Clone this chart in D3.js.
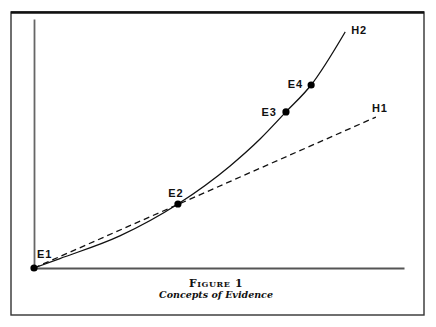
<!DOCTYPE html>
<html>
<head>
<meta charset="utf-8">
<script src="https://cdn.jsdelivr.net/npm/d3@7"></script>
<style>
  html, body { margin: 0; padding: 0; background: #fff; }
  svg { display: block; }
</style>
</head>
<body>
<svg id="chart" width="436" height="327"></svg>
<script>
// Hypothesis H2: a curve that bends upward through the evidence points
const h2X = [0, 7.0, 23.2, 38.9, 53.0, 61.1, 68.1, 74.9, 84.1];
const h2Y = [0, 3.8, 12.9, 25.7, 41.0, 51.8, 62.7, 73.5, 94.8];

// Hypothesis H1: a straight line from the origin
const h1X = [0, 92.4];
const h1Y = [0, 60.6];

// Evidence points
const evidenceNames = ["E1", "E2", "E3", "E4"];
const evidenceX = [0, 38.9, 68.1, 74.9];
const evidenceY = [0, 25.7, 62.7, 73.5];

const svg = d3.select("#chart");

const x = d3.scaleLinear().domain([0, 100]).range([34, 404]);
const y = d3.scaleLinear().domain([0, 100]).range([268, 19]);

// Frame
svg.append("rect")
  .attr("x", 11).attr("y", 12).attr("width", 413).attr("height", 303)
  .attr("fill", "#fff").attr("stroke", "#333").attr("stroke-width", 1.4);
svg.append("line")
  .attr("x1", 11).attr("x2", 424).attr("y1", 12.5).attr("y2", 12.5)
  .attr("stroke", "#111").attr("stroke-width", 2.6);

// Axes (plain lines, no ticks)
const xAxis = d3.axisBottom(x).tickValues([]).tickSizeOuter(0);
const yAxis = d3.axisLeft(y).tickValues([]).tickSizeOuter(0);
svg.append("g").attr("transform", `translate(0,${y(0)})`).call(xAxis)
  .select(".domain").attr("stroke", "#555").attr("stroke-width", 2);
svg.append("g").attr("transform", `translate(${x(0)},0)`).call(yAxis)
  .select(".domain").attr("stroke", "#666").attr("stroke-width", 1.8);

const line = d3.line()
  .x(d => x(d[0]))
  .y(d => y(d[1]));

// H1 dashed
svg.append("path")
  .datum(d3.zip(h1X, h1Y))
  .attr("d", line)
  .attr("fill", "none")
  .attr("stroke", "#111")
  .attr("stroke-width", 1.3)
  .attr("stroke-dasharray", "6,4");

// H2 solid curve
svg.append("path")
  .datum(d3.zip(h2X, h2Y))
  .attr("d", line.curve(d3.curveMonotoneX))
  .attr("fill", "none")
  .attr("stroke", "#111")
  .attr("stroke-width", 1.3);

// Evidence dots
svg.selectAll("circle.ev")
  .data(d3.zip(evidenceX, evidenceY))
  .join("circle")
  .attr("class", "ev")
  .attr("cx", d => x(d[0]))
  .attr("cy", d => y(d[1]))
  .attr("r", 3.6)
  .attr("fill", "#000");

// Point and line labels
const labelFont = "'Liberation Sans', Arial, sans-serif";
const labels = [
  { t: evidenceNames[0], dx: 3, dy: -10, anchor: "start", px: evidenceX[0], py: evidenceY[0] },
  { t: evidenceNames[1], dx: -2, dy: -7, anchor: "middle", px: evidenceX[1], py: evidenceY[1] },
  { t: evidenceNames[2], dx: -9, dy: 4, anchor: "end", px: evidenceX[2], py: evidenceY[2] },
  { t: evidenceNames[3], dx: -8, dy: 3, anchor: "end", px: evidenceX[3], py: evidenceY[3] },
  { t: "H2", dx: 6, dy: 2, anchor: "start", px: h2X[h2X.length - 1], py: h2Y[h2Y.length - 1] },
  { t: "H1", dx: -4, dy: -5, anchor: "start", px: h1X[1], py: h1Y[1] }
];
svg.selectAll("text.lbl")
  .data(labels)
  .join("text")
  .attr("class", "lbl")
  .attr("x", d => x(d.px) + d.dx)
  .attr("y", d => y(d.py) + d.dy)
  .attr("text-anchor", d => d.anchor)
  .attr("font-family", labelFont)
  .attr("font-weight", "bold")
  .attr("font-size", 11)
  .attr("letter-spacing", 1)
  .attr("fill", "#111")
  .text(d => d.t);

// Caption
svg.append("text")
  .attr("x", 216).attr("y", 287)
  .attr("text-anchor", "middle")
  .attr("font-family", "'DejaVu Serif', serif")
  .attr("font-weight", "bold")
  .attr("font-size", 10.8)
  .attr("font-variant", "small-caps")
  .attr("letter-spacing", 0.6)
  .attr("fill", "#111")
  .text("Figure 1");
svg.append("text")
  .attr("x", 216).attr("y", 298)
  .attr("text-anchor", "middle")
  .attr("font-family", "'DejaVu Serif', serif")
  .attr("font-weight", "bold")
  .attr("font-style", "italic")
  .attr("font-size", 9.5)
  .attr("fill", "#111")
  .text("Concepts of Evidence");
</script>
</body>
</html>
